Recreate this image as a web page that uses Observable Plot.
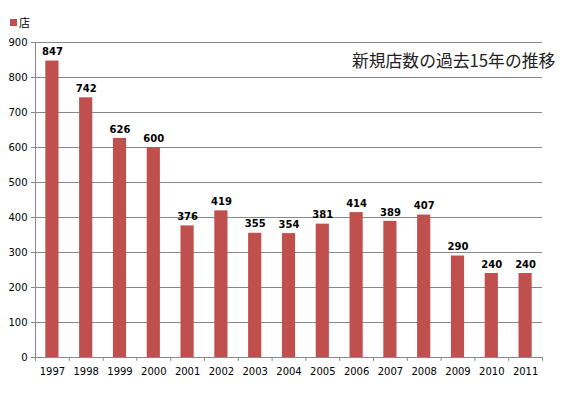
<!DOCTYPE html>
<html><head><meta charset="utf-8">
<script src="https://cdn.jsdelivr.net/npm/d3@7"></script>
<script src="https://cdn.jsdelivr.net/npm/@observablehq/plot@0.6"></script>
<style>
body{margin:0;background:#fff;font-family:"Noto Sans CJK JP","DejaVu Sans",sans-serif;}
#wrap{position:relative;width:569px;height:395px;}
#legend{position:absolute;left:10px;top:14px;font-size:11px;display:flex;align-items:center;gap:2px;}
#legend span.sw{display:inline-block;width:7px;height:7px;background:#C0504D;}
#title{position:absolute;left:352px;top:48px;font-size:16.8px;color:#222;}
</style></head>
<body><div id="wrap"><div id="chart"></div>
<div id="legend"><span class="sw"></span><span>店</span></div>
<div id="title">新規店数の過去15年の推移</div></div>
<script>
const years = ["1997","1998","1999","2000","2001","2002","2003","2004","2005","2006","2007","2008","2009","2010","2011"];
const stores = [847,742,626,600,376,419,355,354,381,414,389,407,290,240,240];
const yTicks = [0,100,200,300,400,500,600,700,800,900];
const data = years.map((y,i)=>({year:y, value:stores[i]}));
const bw = (569-35-27)/years.length;
const chart = Plot.plot({
  width:569, height:395,
  marginLeft:35, marginRight:27, marginTop:42, marginBottom:38,
  style:{fontFamily:"'DejaVu Sans',sans-serif", background:"#fff"},
  x:{domain:years, paddingInner:0.61, paddingOuter:0.305, align:0.5, round:false, label:null, tickSize:0, tickPadding:8},
  y:{domain:[0,900], ticks:yTicks, label:null, tickSize:4, tickPadding:4},
  marks:[
    Plot.ruleY(yTicks.filter(d=>d>0), {stroke:"#888", strokeWidth:1}),
    Plot.barY(data, {x:"year", y:"value", fill:"#C0504D"}),
    Plot.text(data, {x:"year", y:"value", text:d=>String(d.value), dy:-9, fontWeight:"bold", fontSize:10, fill:"#000", style:"letter-spacing:1.5px"}),
    Plot.ruleY([0], {stroke:"#888"}),
    Plot.frame({anchor:"left", stroke:"#888"}),
    Plot.ruleX(years, {x:d=>d, dx:-bw/2, y1:0, y2:-11, stroke:"#888"}),
    Plot.ruleX([years[years.length-1]], {x:d=>d, dx:bw/2, y1:0, y2:-11, stroke:"#888"}),
    Plot.axisX({tickSize:0, tickPadding:10, fontSize:10, style:"letter-spacing:1.5px"}),
    Plot.axisY({ticks:yTicks, tickSize:4, tickPadding:4, fontSize:10, stroke:"#888"})
  ]
});
document.getElementById("chart").appendChild(chart);
</script></body></html>
